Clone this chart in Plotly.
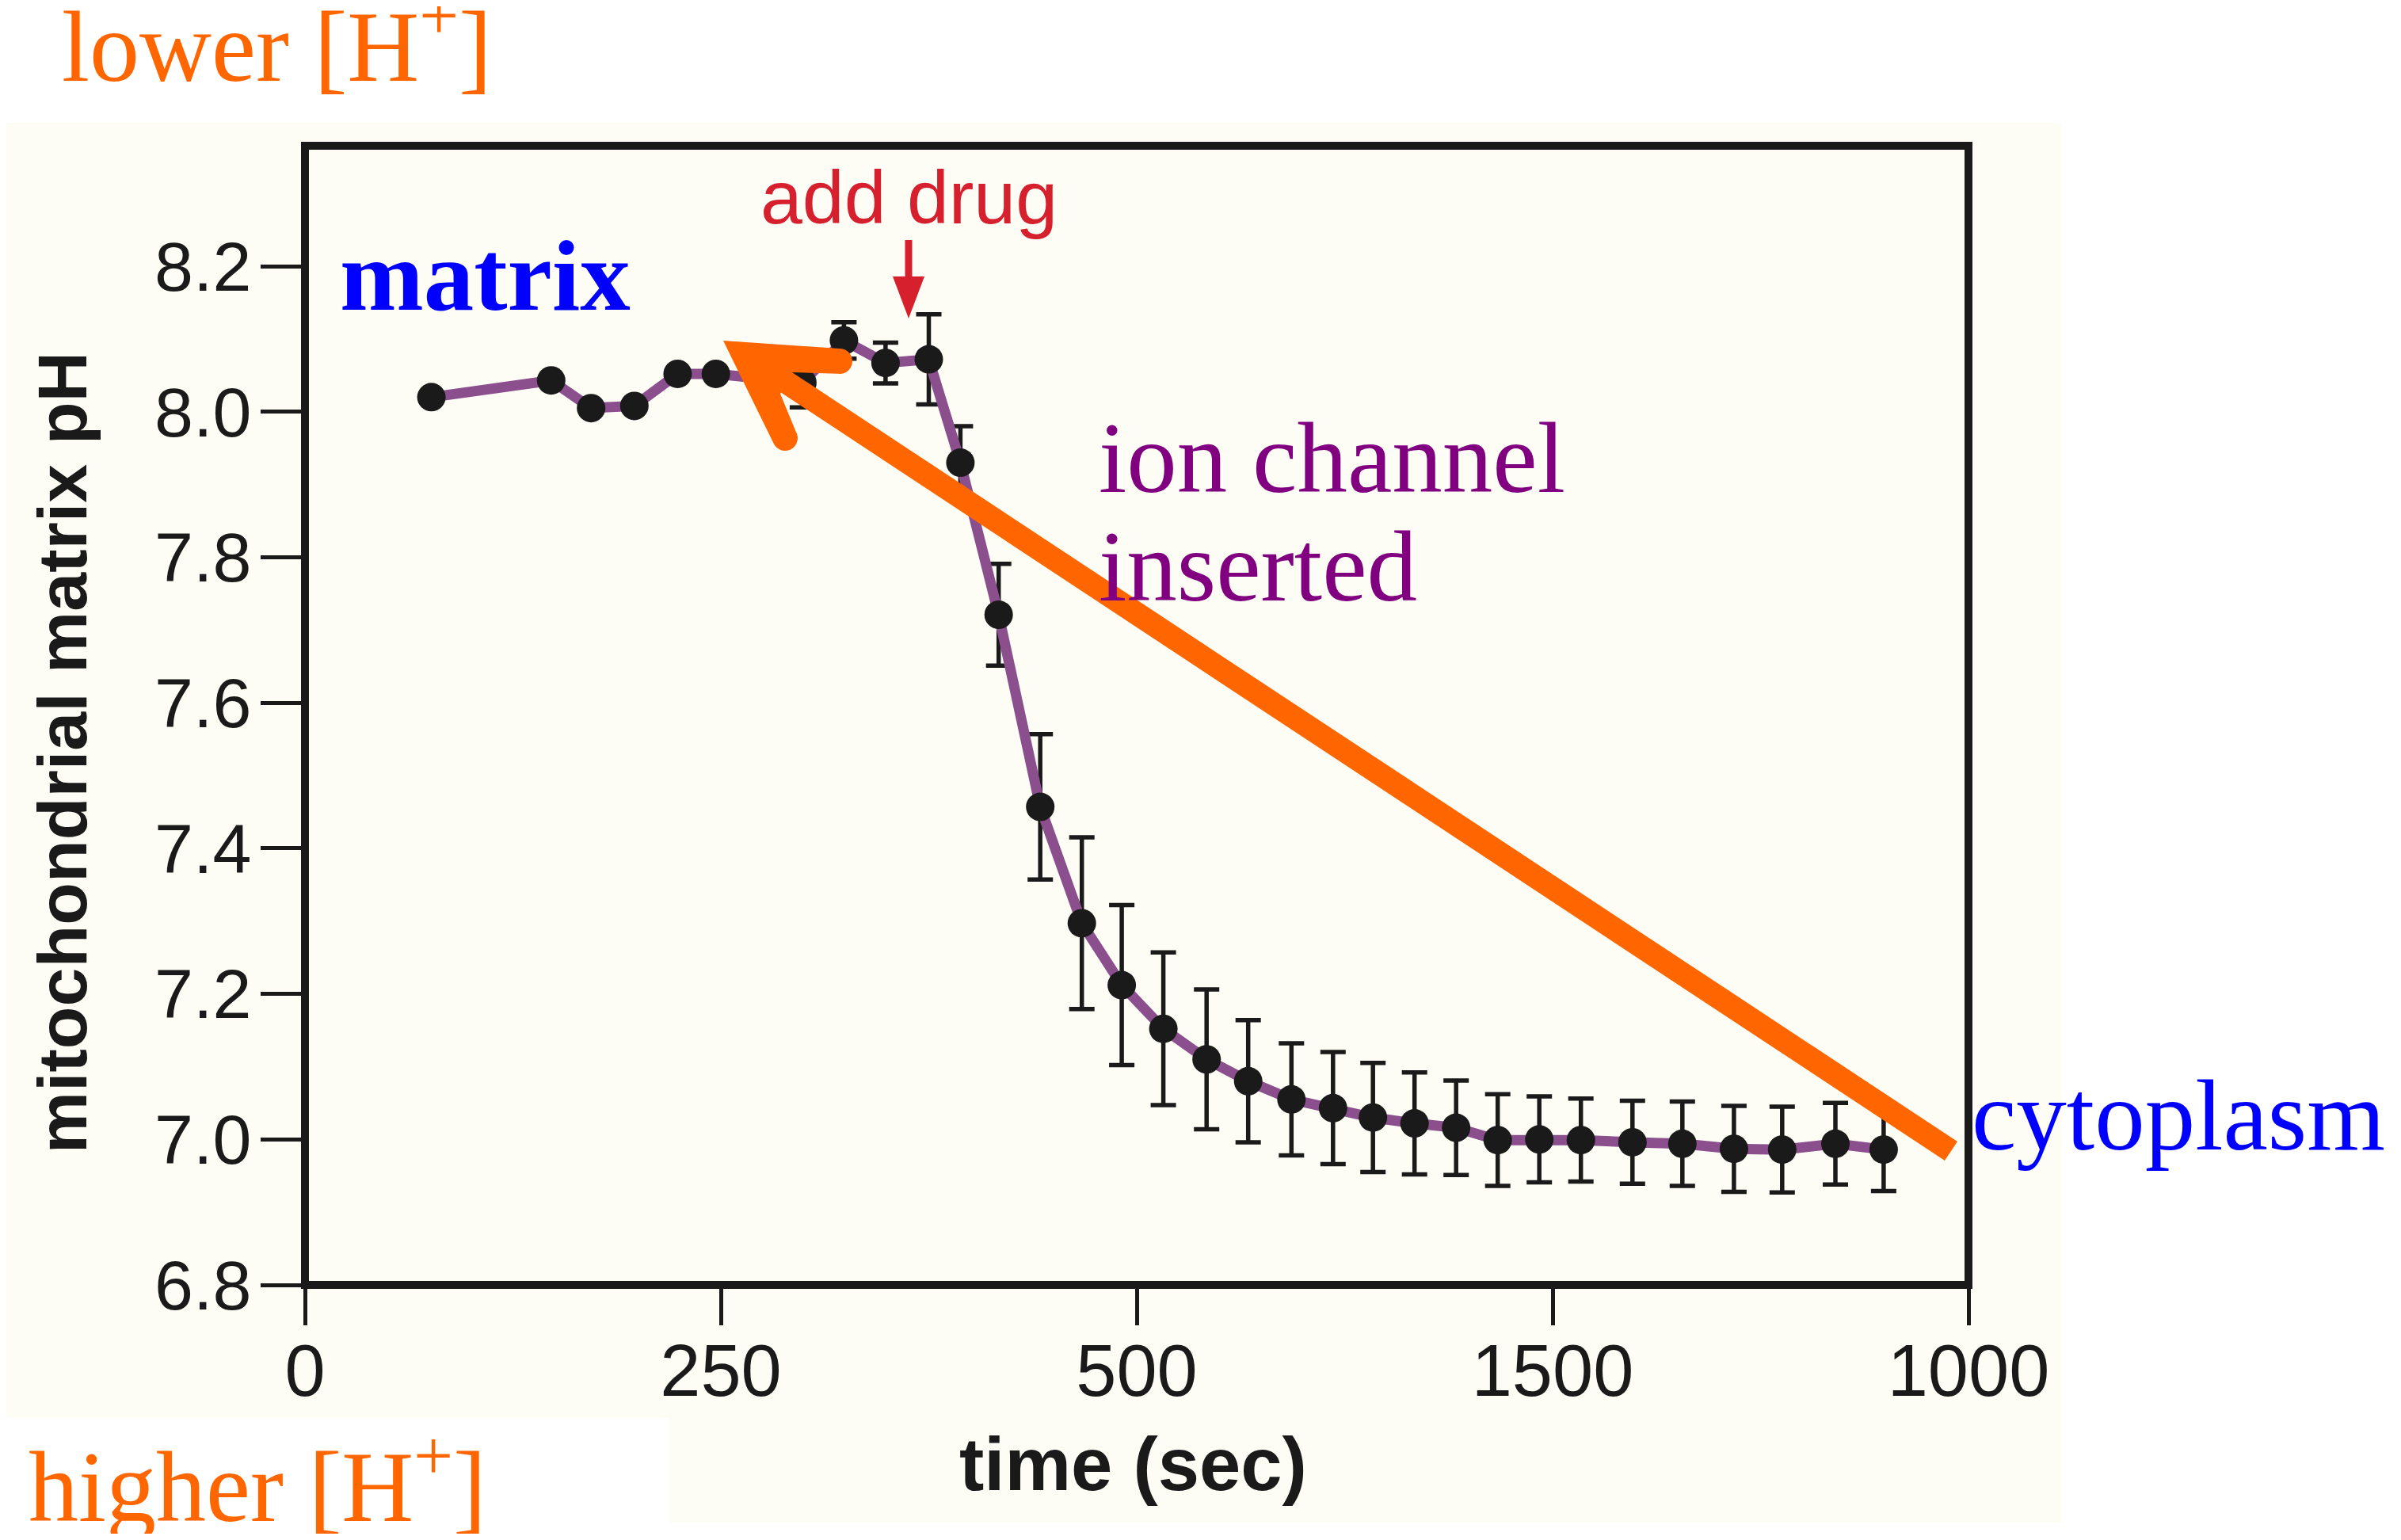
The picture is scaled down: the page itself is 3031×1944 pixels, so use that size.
import numpy as np
import plotly.graph_objects as go

# ---------------- data ----------------
time_s = [76, 148, 172, 198, 224, 247, 299, 324, 349, 375, 394, 417, 442, 467, 491,
          516, 542, 567, 593, 618, 642, 667, 692, 717, 742, 767, 798, 828, 859, 888,
          920, 949]
ph = [8.020, 8.043, 8.005, 8.008, 8.052, 8.052, 8.040, 8.098, 8.067, 8.072, 7.930,
      7.721, 7.457, 7.297, 7.212, 7.152, 7.110, 7.080, 7.055, 7.043, 7.030, 7.022,
      7.016, 6.999, 7.000, 6.999, 6.996, 6.994, 6.987, 6.986, 6.994, 6.986]
ph_err = [0, 0, 0, 0, 0, 0, 0.034, 0.025, 0.028, 0.062, 0.050, 0.070, 0.100, 0.118,
          0.110, 0.105, 0.096, 0.084, 0.077, 0.077, 0.075, 0.070, 0.065, 0.063, 0.059,
          0.057, 0.057, 0.058, 0.059, 0.059, 0.056, 0.057]
x_tickvals = [0, 250, 500, 750, 1000]
x_ticktext = ["0", "250", "500", "1500", "1000"]

# ---------------- geometry (page pixel coordinates) ----------------
OFF = 8                      # default body margin of the html page
W_FIG, H_FIG = 3031 - 2 * OFF, 1944 - 2 * OFF
L, R, T, B = 385, 2485, 184, 1622   # plot area on the page
PW, PH = R - L, B - T


def px(x):
    return (x - L) / PW


def py(y):
    return 1 - (y - T) / PH


CREAM = "#fdfdf6"
BLACK = "#1a1a1a"
PURPLE_LINE = "#8b4f8d"
ORANGE = "#ff6600"
RED = "#d7202e"
SANS = "Liberation Sans, Arial, sans-serif"
SERIF = "Liberation Serif, Times New Roman, serif"

fig = go.Figure()
fig.add_trace(go.Scatter(
    x=time_s, y=ph, mode="lines+markers",
    line=dict(color=PURPLE_LINE, width=13),
    marker=dict(size=36, color=BLACK),
    error_y=dict(type="data", array=ph_err, visible=True, color=BLACK,
                 thickness=5.5, width=16),
    showlegend=False, hoverinfo="skip",
))

shapes = []
# background panels
shapes.append(dict(type="rect", xref="paper", yref="paper", layer="below",
                   x0=px(0), x1=px(2603), y0=py(1922), y1=py(155),
                   fillcolor=CREAM, line=dict(width=0)))
shapes.append(dict(type="rect", xref="paper", yref="paper", layer="below",
                   x0=px(0), x1=px(844), y0=py(1944), y1=py(1790),
                   fillcolor="#ffffff", line=dict(width=0)))
# frame
shapes.append(dict(type="rect", xref="paper", yref="paper", layer="above",
                   x0=0, x1=1, y0=0, y1=1,
                   line=dict(color=BLACK, width=10)))

# red "add drug" arrow
shapes.append(dict(type="line", xref="paper", yref="paper",
                   x0=px(1147), x1=px(1147), y0=py(303), y1=py(360),
                   line=dict(color=RED, width=9)))
shapes.append(dict(type="path", xref="paper", yref="paper",
                   path=f"M{px(1127)},{py(349)} L{px(1167)},{py(349)} L{px(1147)},{py(402)} Z",
                   fillcolor=RED, line=dict(width=0)))

# orange arrow: shaft
tail = np.array([2463.0, 1453.0])
tip = np.array([913.0, 430.0])
shapes.append(dict(type="line", xref="paper", yref="paper",
                   x0=px(tail[0]), y0=py(tail[1]), x1=px(990), y1=py(430 + (990 - 913) * (1023 / 1550)),
                   line=dict(color=ORANGE, width=29)))


def cap(center, n_start, d, r=16, n=14):
    pts = []
    for th in np.linspace(0, np.pi, n):
        v = center + r * (np.cos(th) * n_start + np.sin(th) * d)
        pts.append(v)
    return pts


C1 = np.array([1060.0, 456.0])
d1 = (C1 - tip) / np.linalg.norm(C1 - tip)
n1 = np.array([d1[1], -d1[0]])  # upward normal
C2 = np.array([991.0, 553.0])
d2 = (C2 - tip) / np.linalg.norm(C2 - tip)
n2 = np.array([d2[1], -d2[0]])  # inner (right/up) normal
I1 = np.array([1000.0, 470.0])
I2 = np.array([985.0, 497.0])
poly = [tip] + cap(C1, n1, d1) + [I1, I2] + cap(C2, n2, d2)
path = "M" + " L".join(f"{px(p[0]):.5f},{py(p[1]):.5f}" for p in poly) + " Z"
shapes.append(dict(type="path", xref="paper", yref="paper", path=path,
                   fillcolor=ORANGE, line=dict(width=0)))


def ann(text, x, baseline, size, family, color, xanchor="left", desc=0.216, bold=False):
    if bold:
        text = f"<b>{text}</b>"
    return dict(text=text, xref="paper", yref="paper", x=px(x),
                y=py(baseline + desc * size + 1), xanchor=xanchor, yanchor="bottom",
                showarrow=False, font=dict(family=family, size=size, color=color))


annotations = [
    ann("lower [H<sup>+</sup>]", 76, 103, 126, SERIF, ORANGE),
    ann("higher [H<sup>+</sup>]", 34, 1921, 126, SERIF, ORANGE),
    ann("matrix", 427, 392, 127, SERIF, "#0000ff", bold=True),
    ann("ion channel", 1385, 622, 127, SERIF, "#800080"),
    ann("inserted", 1385, 759, 127, SERIF, "#800080"),
    ann("cytoplasm", 2487, 1452, 127, SERIF, "#0000ff"),
    ann("add drug", 1147, 283, 95, SANS, RED, xanchor="center", desc=0.212),
    ann("time (sec)", 1430, 1882, 94, SANS, BLACK, xanchor="center", desc=0.212, bold=True),
    dict(text="<b>mitochondrial matrix pH</b>", xref="paper", yref="paper",
         x=px(110 + 0.212 * 88 + 1), y=py(950), xanchor="right", yanchor="middle",
         textangle=-90, showarrow=False,
         font=dict(family=SANS, size=88, color=BLACK)),
]

fig.update_layout(
    width=W_FIG, height=H_FIG,
    margin=dict(l=L - OFF, r=W_FIG - (R - OFF), t=T - OFF, b=H_FIG - (B - OFF), pad=0),
    paper_bgcolor="#ffffff", plot_bgcolor=CREAM,
    shapes=shapes, annotations=annotations,
    hovermode=False,
    xaxis=dict(range=[0, 1000], tickvals=x_tickvals, ticktext=x_ticktext,
               ticks="outside", ticklen=50, tickwidth=5, tickcolor=BLACK,
               ticklabelstandoff=-21, automargin=False,
               showgrid=False, zeroline=False, showline=False,
               tickfont=dict(family=SANS, size=92, color=BLACK)),
    yaxis=dict(range=[6.8, 8.3655], tick0=6.8, dtick=0.2, tickformat=".1f",
               ticks="outside", ticklen=55, tickwidth=5, tickcolor=BLACK,
               ticklabelstandoff=-6, automargin=False,
               showgrid=False, zeroline=False, showline=False,
               tickfont=dict(family=SANS, size=88, color=BLACK)),
)

fig.write_html("out.html", config={"displayModeBar": False})
